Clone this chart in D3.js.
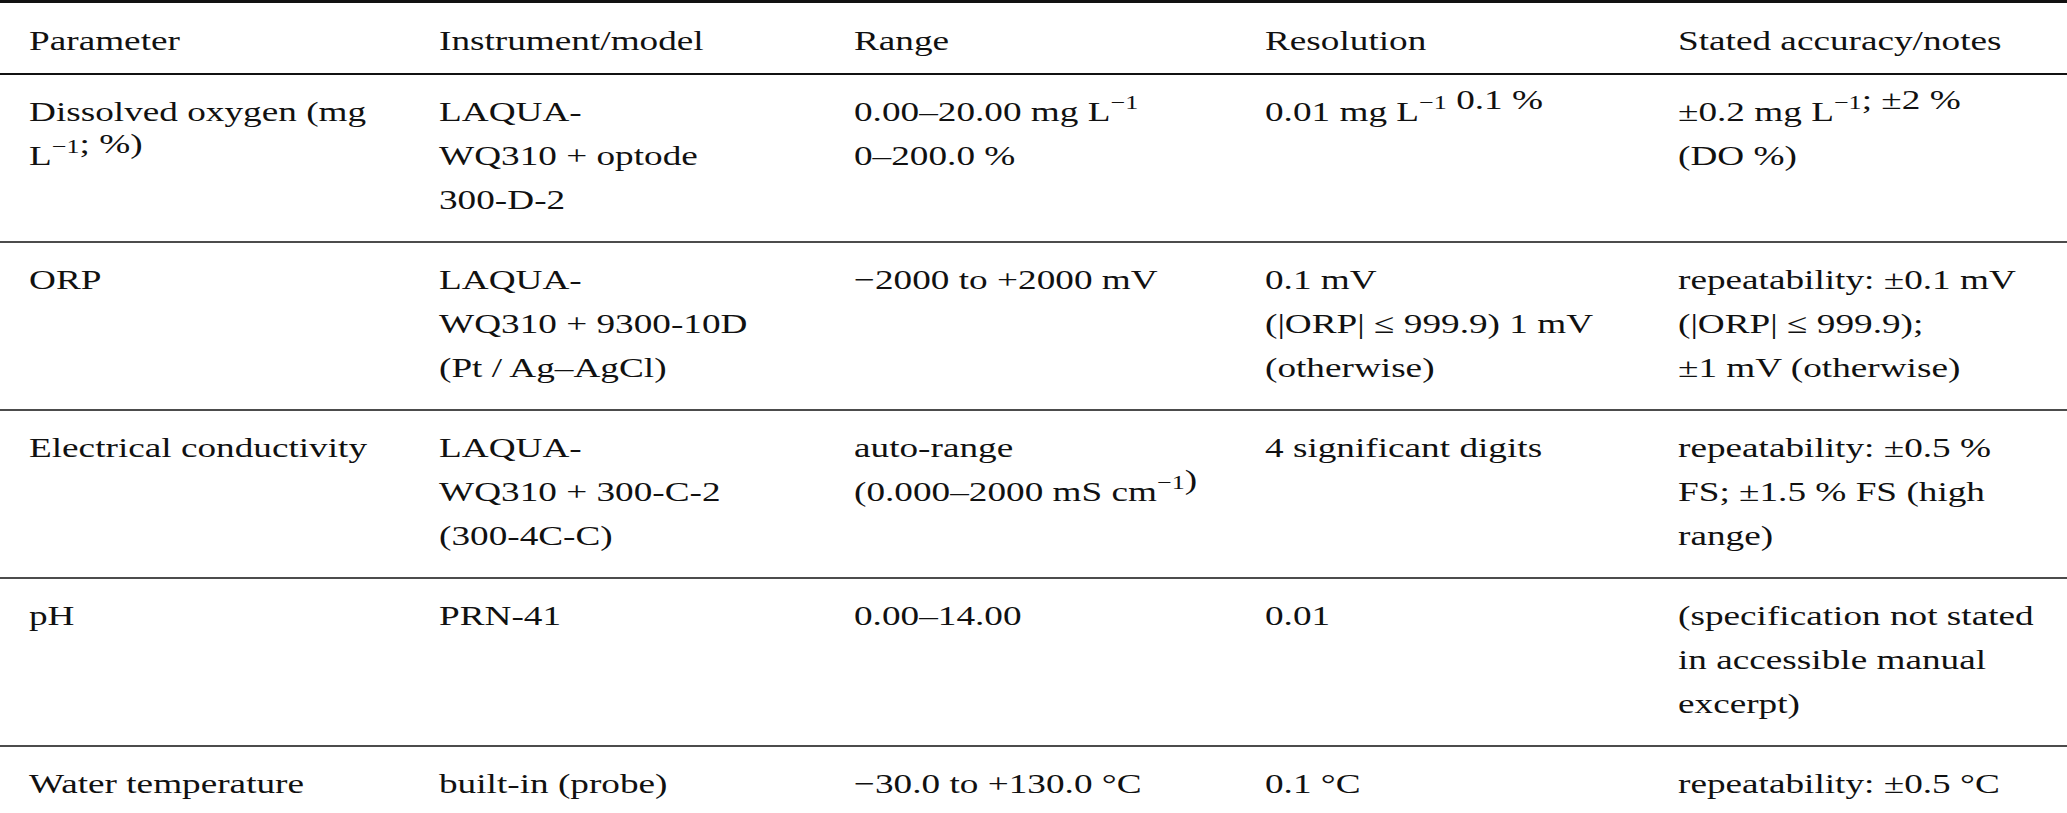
<!DOCTYPE html>
<html>
<head>
<meta charset="utf-8">
<script src="https://cdn.jsdelivr.net/npm/d3@7"></script>
<style>
  body { margin: 0; background: #fff; }
  svg { display: block; }
</style>
</head>
<body>
<svg id="chart" width="2067" height="813"></svg>
<script>
// table content, ^{..} marks a superscript
const headers = ['Parameter', 'Instrument/model', 'Range', 'Resolution', 'Stated accuracy/notes'];
const parameters = [['Dissolved oxygen (mg', 'L^{−1}; %)'], ['ORP'], ['Electrical conductivity'], ['pH'], ['Water temperature']];
const instruments = [
  ['LAQUA-', 'WQ310 + optode', '300-D-2'],
  ['LAQUA-', 'WQ310 + 9300-10D', '(Pt / Ag–AgCl)'],
  ['LAQUA-', 'WQ310 + 300-C-2', '(300-4C-C)'],
  ['PRN-41'],
  ['built-in (probe)']
];
const ranges = [
  ['0.00–20.00 mg L^{−1}', '0–200.0 %'],
  ['−2000 to +2000 mV'],
  ['auto-range', '(0.000–2000 mS cm^{−1})'],
  ['0.00–14.00'],
  ['−30.0 to +130.0 °C']
];
const resolutions = [
  ['0.01 mg L^{−1} 0.1  %'],
  ['0.1 mV', '(|ORP| ≤ 999.9) 1 mV', '(otherwise)'],
  ['4 significant digits'],
  ['0.01'],
  ['0.1 °C']
];
const notes = [
  ['±0.2 mg L^{−1}; ±2 %', '(DO %)'],
  ['repeatability: ±0.1 mV', '(|ORP| ≤ 999.9);', '±1 mV (otherwise)'],
  ['repeatability: ±0.5 %', 'FS; ±1.5 % FS (high', 'range)'],
  ['(specification not stated', 'in accessible manual', 'excerpt)'],
  ['repeatability: ±0.5 °C']
];

const svg = d3.select('#chart');
const font = 'Liberation Serif, Times New Roman, serif';
const fontSize = 28;
const stretch = 1.33; // the reference text is set wide
const lineH = 44;

const colX = [29, 439, 854, 1265, 1678];
const x0 = 0, x1 = 2067;

const rows = parameters.map((p, i) => [p, instruments[i], ranges[i], resolutions[i], notes[i]]);
const rowLines = rows.map(r => d3.max(r, c => c.length));

// row boundaries
const bounds = [74];
rowLines.forEach(n => bounds.push(bounds[bounds.length - 1] + (n > 1 ? lineH * n + 36 : 71)));

const y = d3.scaleLinear().domain([0, 813]).range([0, 813]);

function addText(sel, str) {
  str.split(/(\^\{[^}]*\})/).forEach(part => {
    if (!part) return;
    const m = part.match(/^\^\{(.*)\}$/);
    if (m) {
      sel.append('tspan').attr('dy', -12).attr('font-size', fontSize * 0.7).text(m[1]);
      sel.append('tspan').attr('dy', 12).text('');
    } else {
      sel.append('tspan').text(part);
    }
  });
}

function place(x, yy) {
  return `translate(${x},${yy}) scale(${stretch},1)`;
}

// header
svg.selectAll('text.head')
  .data(headers)
  .enter()
  .append('text')
  .attr('class', 'head')
  .attr('transform', (d, i) => place(colX[i], y(50)))
  .attr('font-family', font)
  .attr('font-size', fontSize)
  .attr('fill', '#111')
  .text(d => d);

// body cells
rows.forEach((row, ri) => {
  row.forEach((cell, ci) => {
    cell.forEach((line, li) => {
      const t = svg.append('text')
        .attr('transform', place(colX[ci], y(bounds[ri] + 47 + li * lineH)))
        .attr('font-family', font)
        .attr('font-size', fontSize)
        .attr('fill', '#111');
      addText(t, line);
    });
  });
});

// rules
const rules = [{ y: 1.5, w: 3 }, { y: bounds[0], w: 2 }]
  .concat(bounds.slice(1, -1).map(b => ({ y: b, w: 1.6 })))
  .concat([{ y: bounds[bounds.length - 1], w: 3 }]);

svg.selectAll('line.rule')
  .data(rules)
  .enter()
  .append('line')
  .attr('x1', x0)
  .attr('x2', x1)
  .attr('y1', d => y(d.y))
  .attr('y2', d => y(d.y))
  .attr('stroke', '#111')
  .attr('stroke-width', d => d.w);
</script>
</body>
</html>
